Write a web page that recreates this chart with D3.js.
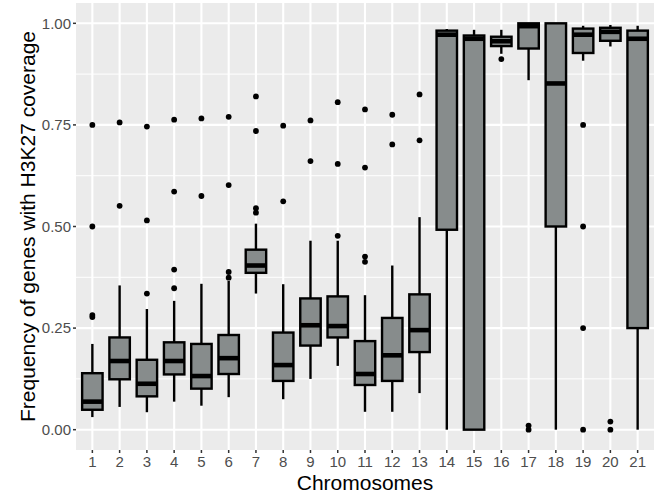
<!DOCTYPE html>
<html><head><meta charset="utf-8">
<script src="https://cdn.jsdelivr.net/npm/d3@7"></script>
<style>body{margin:0;background:#fff}svg{display:block}</style>
</head><body>
<script>
const categories = ["1","2","3","4","5","6","7","8","9","10","11","12","13","14","15","16","17","18","19","20","21"];
const whiskerLow  = [0.031,0.056,0.043,0.069,0.059,0.080,0.335,0.075,0.125,0.157,0.044,0.044,0.090,0.000,0.000,0.925,0.860,0.000,0.908,0.943,0.000];
const q1          = [0.049,0.124,0.082,0.136,0.101,0.137,0.386,0.120,0.207,0.227,0.110,0.120,0.191,0.492,0.000,0.944,0.938,0.500,0.927,0.957,0.250];
const medians     = [0.069,0.169,0.113,0.169,0.132,0.176,0.404,0.159,0.257,0.255,0.137,0.183,0.245,0.972,0.962,0.956,0.993,0.852,0.972,0.979,0.962];
const q3          = [0.139,0.227,0.172,0.215,0.211,0.233,0.443,0.239,0.323,0.328,0.218,0.275,0.333,0.982,0.970,0.967,1.000,1.000,0.987,0.989,0.982];
const whiskerHigh = [0.211,0.355,0.297,0.317,0.359,0.366,0.507,0.358,0.465,0.465,0.331,0.404,0.523,0.986,0.984,0.984,1.000,1.000,0.994,0.996,0.994];
const outliers = [
  [0.750,0.500,0.282,0.277],
  [0.756,0.551],
  [0.746,0.515,0.335],
  [0.763,0.586,0.394,0.348],
  [0.766,0.575],
  [0.770,0.602,0.388,0.374],
  [0.820,0.735,0.545,0.534],
  [0.748,0.562],
  [0.761,0.661],
  [0.806,0.654,0.477],
  [0.788,0.645,0.426,0.413],
  [0.775,0.702],
  [0.825,0.712],
  [],
  [],
  [0.912],
  [0.010,0.000],
  [],
  [0.750,0.500,0.250,0.000],
  [0.020,0.000],
  []
];
const yTicks = [0,0.25,0.5,0.75,1];
const yTickLabels = ["0.00","0.25","0.50","0.75","1.00"];
const yMinor = [0.125,0.375,0.625,0.875];
const xTitle = "Chromosomes";
const yTitle = "Frequency of genes with H3K27 coverage";

const W = 662, H = 499;
const panel = {left:76, right:654, top:3, bottom:450};
const font = "'Liberation Sans', Arial, Helvetica, sans-serif";

const svg = d3.select("body").append("svg").attr("width", W).attr("height", H);

const n = categories.length;
const x = d3.scaleLinear().domain([-0.6, n - 1 + 0.6]).range([panel.left, panel.right]);
const xc = d => x(categories.indexOf(d));
const y = d3.scaleLinear().domain([-0.05, 1.05]).range([panel.bottom, panel.top]);

svg.append("rect").attr("x", panel.left).attr("y", panel.top)
  .attr("width", panel.right - panel.left).attr("height", panel.bottom - panel.top)
  .attr("fill", "#ebebeb");

const grid = svg.append("g");
grid.selectAll("line.minor").data(yMinor).join("line")
  .attr("x1", panel.left).attr("x2", panel.right)
  .attr("y1", d => y(d)).attr("y2", d => y(d))
  .attr("stroke", "#fff").attr("stroke-width", 1);
grid.selectAll("line.majory").data(yTicks).join("line")
  .attr("x1", panel.left).attr("x2", panel.right)
  .attr("y1", d => y(d)).attr("y2", d => y(d))
  .attr("stroke", "#fff").attr("stroke-width", 2.1);
grid.selectAll("line.majorx").data(categories).join("line")
  .attr("y1", panel.top).attr("y2", panel.bottom)
  .attr("x1", d => xc(d)).attr("x2", d => xc(d))
  .attr("stroke", "#fff").attr("stroke-width", 2.1);

const unit = x(1) - x(0);
const bw = unit * 0.75;
const data = categories.map((c, i) => ({c, lo: whiskerLow[i], q1: q1[i], med: medians[i], q3: q3[i], hi: whiskerHigh[i], out: outliers[i]}));

const boxes = svg.append("g").selectAll("g").data(data).join("g");
boxes.append("line").attr("x1", d => xc(d.c)).attr("x2", d => xc(d.c))
  .attr("y1", d => y(d.hi)).attr("y2", d => y(d.q3))
  .attr("stroke", "#000").attr("stroke-width", 2.4);
boxes.append("line").attr("x1", d => xc(d.c)).attr("x2", d => xc(d.c))
  .attr("y1", d => y(d.q1)).attr("y2", d => y(d.lo))
  .attr("stroke", "#000").attr("stroke-width", 2.4);
boxes.append("rect").attr("x", d => xc(d.c) - bw/2).attr("width", bw)
  .attr("y", d => y(d.q3)).attr("height", d => y(d.q1) - y(d.q3))
  .attr("fill", "#878c8c").attr("stroke", "#000").attr("stroke-width", 2.4);
boxes.append("line").attr("x1", d => xc(d.c) - bw/2).attr("x2", d => xc(d.c) + bw/2)
  .attr("y1", d => y(d.med)).attr("y2", d => y(d.med))
  .attr("stroke", "#000").attr("stroke-width", 4.6);
boxes.selectAll("circle").data(d => d.out.map(v => ({c: d.c, v}))).join("circle")
  .attr("cx", d => xc(d.c)).attr("cy", d => y(d.v)).attr("r", 2.9).attr("fill", "#000");

// axes
const yAxis = svg.append("g");
yAxis.selectAll("line").data(yTicks).join("line")
  .attr("x1", panel.left - 3).attr("x2", panel.left)
  .attr("y1", d => y(d)).attr("y2", d => y(d))
  .attr("stroke", "#333").attr("stroke-width", 1.5);
yAxis.selectAll("text").data(yTicks).join("text")
  .attr("x", panel.left - 5).attr("y", d => y(d)).attr("dy", "0.35em")
  .attr("text-anchor", "end").attr("font-family", font).attr("font-size", 15)
  .attr("fill", "#4d4d4d").text((d, i) => yTickLabels[i]);

const xAxis = svg.append("g");
xAxis.selectAll("line").data(categories).join("line")
  .attr("x1", d => xc(d)).attr("x2", d => xc(d))
  .attr("y1", panel.bottom).attr("y2", panel.bottom + 3)
  .attr("stroke", "#333").attr("stroke-width", 1.5);
xAxis.selectAll("text").data(categories).join("text")
  .attr("x", d => xc(d)).attr("y", panel.bottom + 17)
  .attr("text-anchor", "middle").attr("font-family", font).attr("font-size", 15)
  .attr("fill", "#4d4d4d").text(d => d);

svg.append("text").attr("x", (panel.left + panel.right) / 2).attr("y", 490)
  .attr("text-anchor", "middle").attr("font-family", font).attr("font-size", 21)
  .attr("fill", "#000").text(xTitle);
svg.append("text").attr("transform", `translate(35,${(panel.top + panel.bottom) / 2}) rotate(-90)`)
  .attr("text-anchor", "middle").attr("font-family", font).attr("font-size", 21)
  .attr("fill", "#000").text(yTitle);
</script>
</body></html>
